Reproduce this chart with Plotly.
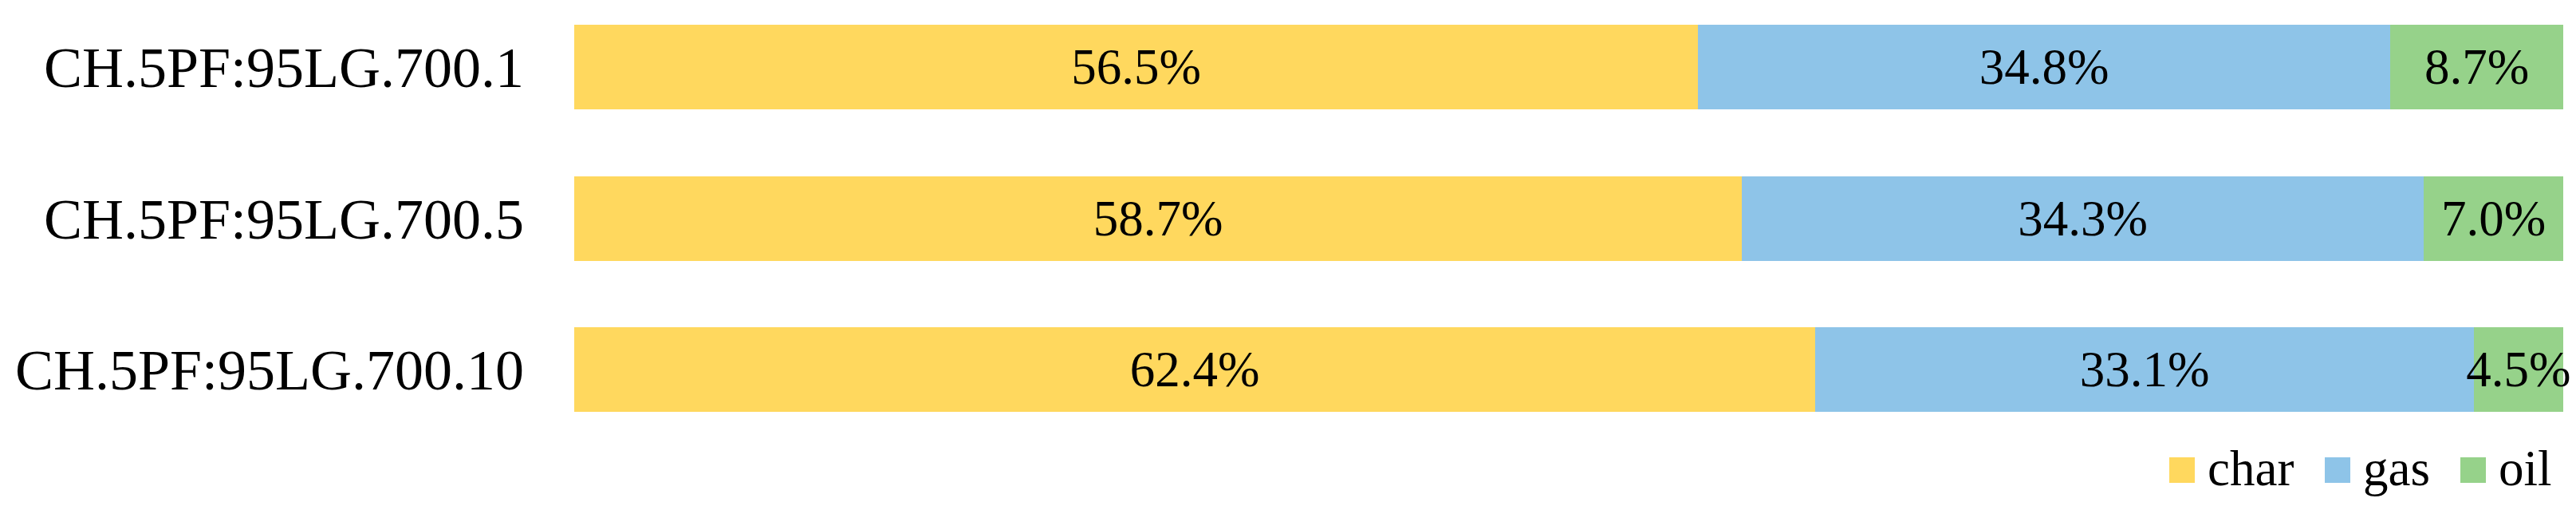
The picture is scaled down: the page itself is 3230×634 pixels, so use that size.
import plotly.graph_objects as go

categories = ["CH.5PF:95LG.700.1", "CH.5PF:95LG.700.5", "CH.5PF:95LG.700.10"]
series_names = ["char", "gas", "oil"]
char_vals = [56.5, 58.7, 62.4]
gas_vals = [34.8, 34.3, 33.1]
oil_vals = [8.7, 7.0, 4.5]
colors = ["#FFD85E", "#8EC4E8", "#96D28A"]

W, H = 3230, 634
PL, PR, PT, PB = 712, 3206, 0, 540  # plot area pixel box
FONT = "Liberation Serif"

fig = go.Figure()
for name, vals, col in zip(series_names, [char_vals, gas_vals, oil_vals], colors):
    fig.add_trace(go.Bar(
        y=categories, x=vals, name=name, orientation="h",
        marker=dict(color=col, line=dict(width=0)),
        width=0.56,
        texttemplate="%{x:.1f}%",
        textposition="inside",
        insidetextanchor="middle",
        constraintext="none",
        textangle=0,
        insidetextfont=dict(family=FONT, size=63, color="black"),
        cliponaxis=False,
        showlegend=False,
    ))

# y-range so bar centers land at measured pixel positions
pitch = 189.3
c0 = 76.2
top_val = -(c0 - PT) / pitch
bot_val = (PB - c0) / pitch

fig.update_layout(
    width=W, height=H,
    barmode="stack",
    margin=dict(l=PL, r=W - PR, t=PT, b=H - PB, pad=0),
    plot_bgcolor="white", paper_bgcolor="white",
    font=dict(family=FONT, color="black"),
    xaxis=dict(range=[0, 100], visible=False, showgrid=False, zeroline=False),
    yaxis=dict(type="category", categoryorder="array", categoryarray=categories,
               range=[bot_val, top_val], showgrid=False, zeroline=False,
               showline=False, ticks="", ticklabelstandoff=62,
               tickfont=dict(family=FONT, size=72, color="black")),
)

# legend (manual, large swatches)
def px_x(p):
    return (p - PL) / (PR - PL)

def px_y(p):
    return 1 - (p - PT) / (PB - PT)

sw_left = [2712, 2907, 3077]
sw_size = 32
sw_top = 565
for name, col, sx in zip(series_names, colors, sw_left):
    fig.add_shape(type="rect", xref="paper", yref="paper",
                  x0=px_x(sx), x1=px_x(sx + sw_size),
                  y0=px_y(sw_top + sw_size), y1=px_y(sw_top),
                  fillcolor=col, line=dict(width=0))
    fig.add_annotation(xref="paper", yref="paper",
                       x=px_x(sx + sw_size + 14), y=px_y(sw_top + sw_size / 2 - 2),
                       xanchor="left", yanchor="middle", showarrow=False,
                       text=name, font=dict(family=FONT, size=63, color="black"))

fig.write_html("out.html")
